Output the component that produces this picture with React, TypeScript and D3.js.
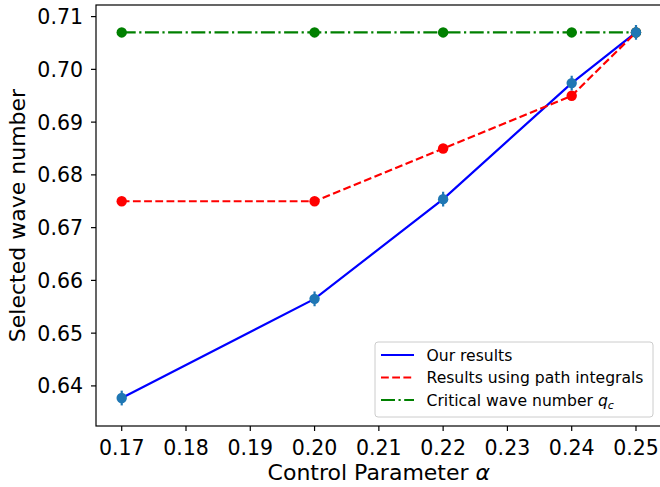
import React from 'react';
import * as d3 from 'd3';

const alphas = [0.17, 0.20, 0.22, 0.24, 0.25];
const ourResults = [0.6377, 0.6565, 0.6754, 0.6974, 0.7070];
const ourErrors = [0.0014, 0.0014, 0.0014, 0.0014, 0.0014];
const pathIntegrals = [0.675, 0.675, 0.685, 0.695, 0.707];
const criticalWave = [0.707, 0.707, 0.707, 0.707, 0.707];

const xTicks = [0.17, 0.18, 0.19, 0.20, 0.21, 0.22, 0.23, 0.24, 0.25];
const yTicks = [0.64, 0.65, 0.66, 0.67, 0.68, 0.69, 0.70, 0.71];

const width = 660;
const height = 487;
const marginLeft = 96;
const marginTop = 5;
const plotRight = 661.7;
const plotBottom = 426;

const font = 'DejaVu Sans, sans-serif';
const lw = 2.2;

const App = () => {
    const x = d3.scaleLinear([0.166, 0.254], [marginLeft, plotRight]);
    const y = d3.scaleLinear([0.6324, 0.7122], [plotBottom, marginTop]);

    const line = d3.line<[number, number]>()
        .x(d => x(d[0]))
        .y(d => y(d[1]));

    const pts = (vals: number[]) => alphas.map((a, i) => [a, vals[i]] as [number, number]);

    // legend box
    const lx = 375, ly = 342, lw2 = 278, lh = 75;
    const rows = [355, 377.5, 400];

    return (
        <svg width={width} height={height} style={{ position: 'absolute', left: 0, top: 0 }}
            fontFamily={font}>
            <rect x={0} y={0} width={width} height={height} fill="white" />
            <defs>
                <clipPath id="plot">
                    <rect x={marginLeft} y={marginTop} width={plotRight - marginLeft} height={plotBottom - marginTop} />
                </clipPath>
            </defs>

            <g clipPath="url(#plot)">
                <path d={line(pts(ourResults)) ?? ''} fill="none" stroke="#0000ff" strokeWidth={lw} />
                <path d={line(pts(pathIntegrals)) ?? ''} fill="none" stroke="#ff0000" strokeWidth={lw}
                    strokeDasharray="7.8,3.4" />
                {alphas.map((a, i) => (
                    <circle key={'r' + i} cx={x(a)} cy={y(pathIntegrals[i])} r={5.2} fill="#ff0000" />
                ))}
                <path d={line(pts(criticalWave)) ?? ''} fill="none" stroke="#008000" strokeWidth={lw}
                    strokeDasharray="14,3.5,2.2,3.5" />
                {alphas.map((a, i) => (
                    <circle key={'g' + i} cx={x(a)} cy={y(criticalWave[i])} r={5.2} fill="#008000" />
                ))}
                {alphas.map((a, i) => (
                    <g key={'b' + i}>
                        <line x1={x(a)} x2={x(a)} y1={y(ourResults[i] - ourErrors[i])}
                            y2={y(ourResults[i] + ourErrors[i])} stroke="#1f77b4" strokeWidth={lw} />
                        <circle cx={x(a)} cy={y(ourResults[i])} r={5.2} fill="#1f77b4" />
                    </g>
                ))}
            </g>

            {/* spines */}
            <rect x={marginLeft} y={marginTop} width={plotRight - marginLeft} height={plotBottom - marginTop}
                fill="none" stroke="black" strokeWidth={1.2} />

            {/* x axis */}
            {xTicks.map(t => (
                <g key={'xt' + t}>
                    <line x1={x(t)} x2={x(t)} y1={plotBottom} y2={plotBottom + 5} stroke="black" strokeWidth={1.2} />
                    <text x={x(t)} y={455} textAnchor="middle" fontSize={20.5}>{d3.format('.2f')(t)}</text>
                </g>
            ))}
            <text x={(marginLeft + plotRight) / 2} y={480} textAnchor="middle" fontSize={22}>
                Control Parameter <tspan fontStyle="italic">α</tspan>
            </text>

            {/* y axis */}
            {yTicks.map(t => (
                <g key={'yt' + t}>
                    <line x1={marginLeft - 5} x2={marginLeft} y1={y(t)} y2={y(t)} stroke="black" strokeWidth={1.2} />
                    <text x={83} y={y(t)} dy="0.36em" textAnchor="end" fontSize={20.5}>{d3.format('.2f')(t)}</text>
                </g>
            ))}
            <text transform={`translate(25,${(marginTop + plotBottom) / 2}) rotate(-90)`} textAnchor="middle"
                fontSize={22}>Selected wave number</text>

            {/* legend */}
            <rect x={lx} y={ly} width={lw2} height={lh} rx={3} fill="white" fillOpacity={0.8}
                stroke="#cccccc" strokeWidth={1} />
            <line x1={381} x2={414} y1={rows[0]} y2={rows[0]} stroke="#0000ff" strokeWidth={lw} />
            <line x1={381} x2={414} y1={rows[1]} y2={rows[1]} stroke="#ff0000" strokeWidth={lw}
                strokeDasharray="7.8,3.4" />
            <line x1={381} x2={414} y1={rows[2]} y2={rows[2]} stroke="#008000" strokeWidth={lw}
                strokeDasharray="14,3.5,2.2,3.5" />
            <text x={426.5} y={rows[0]} dy="0.36em" fontSize={15.6}>Our results</text>
            <text x={426.5} y={rows[1]} dy="0.36em" fontSize={15.6}>Results using path integrals</text>
            <text x={426.5} y={rows[2]} dy="0.36em" fontSize={15.6}>
                Critical wave number <tspan fontStyle="italic">q</tspan>
                <tspan fontStyle="italic" fontSize={11} dy="3">c</tspan>
            </text>
        </svg>
    );
};

export default App;
